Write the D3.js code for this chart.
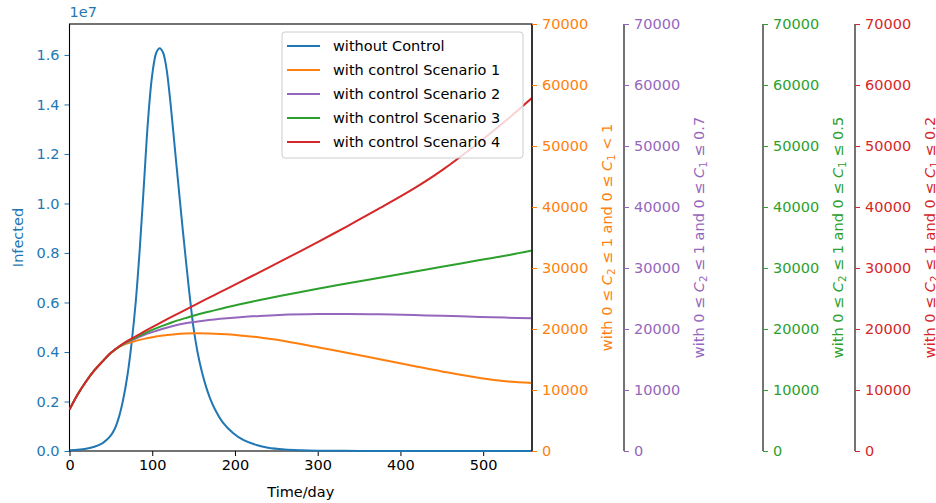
<!DOCTYPE html>
<html><head><meta charset="utf-8">
<script src="https://cdn.jsdelivr.net/npm/d3@7"></script>
<style>body{margin:0;background:#fff}svg{display:block;font-family:"DejaVu Sans",sans-serif}</style>
</head><body>
<script>
// ---- data ----
const blueT = [0,10,20,30,40,45,50,55,60,65,70,75,80,85,90,95,100,105,109,113,117,121,125,129,133,137,141,145,150,155,160,165,170,175,185,198,210,226,240,260,280,300,350,400,450,500,560];
const blueV = [0.03e6,0.05e6,0.09e6,0.17e6,0.32e6,0.45e6,0.63e6,0.92e6,1.40e6,2.10e6,3.05e6,4.35e6,6.0e6,8.2e6,10.8e6,13.4e6,15.2e6,16.1e6,16.27e6,16.1e6,15.5e6,14.4e6,13.05e6,11.65e6,10.27e6,8.9e6,7.6e6,6.35e6,4.95e6,3.95e6,3.2e6,2.6e6,2.12e6,1.74e6,1.17e6,0.72e6,0.45e6,0.24e6,0.13e6,0.06e6,0.03e6,0.015e6,0.003e6,0,0,0,0];
const scenT = [0,10,20,30,40,50,60,70,80,90,100,113,125,140,153,175,190,206,230,254,300,335,375,416,450,496,530,560];
const s1 = [6800,9300,11400,13200,14700,16050,17050,17650,18050,18380,18650,18920,19100,19260,19300,19230,19120,18950,18600,18150,17000,16100,15050,13950,13050,11950,11400,11150];
const s2 = [6800,9300,11400,13200,14700,16080,17100,17850,18450,19000,19480,20050,20500,20930,21200,21550,21750,21930,22150,22300,22440,22460,22400,22280,22160,21980,21860,21750];
const s3 = [6800,9300,11400,13200,14700,16100,17100,17950,18600,19250,19850,20550,21150,21780,22300,23050,23550,24050,24750,25400,26600,27450,28400,29400,30200,31300,32100,32900];
const s4 = [6800,9300,11400,13200,14700,16100,17150,18050,18800,19550,20300,21250,22100,23150,24050,25570,26590,27680,29330,31000,34250,36800,39800,43000,46000,50700,54450,58000];
const xTicks = [0,100,200,300,400,500];
const leftTicks = [0,0.2e7,0.4e7,0.6e7,0.8e7,1.0e7,1.2e7,1.4e7,1.6e7];
const rightTicks = [0,10000,20000,30000,40000,50000,60000,70000];
const legendLabels = ["without Control","with control Scenario 1","with control Scenario 2","with control Scenario 3","with control Scenario 4"];
const colors = ["#1f77b4","#ff7f0e","#9467bd","#2ca02c","#d62728"];
const axisLabels = [["with  0 ≤ ","2"," ≤ 1 and 0 ≤ ","1"," < 1"],["with 0 ≤ ","2"," ≤ 1 and 0 ≤ ","1"," ≤ 0.7"],["with 0 ≤ ","2"," ≤ 1 and 0 ≤ ","1"," ≤ 0.5"],["with 0 ≤ ","2"," ≤ 1 and 0 ≤ ","1"," ≤ 0.2"]];

// ---- layout ----
const W=936,H=503, L=69.5, R=532, T=24, B=451;
const spineX=[532,624,763,855];
const FS=14.5;
const svg=d3.select("body").append("svg").attr("width",W).attr("height",H);
const x=d3.scaleLinear().domain([0,559]).range([L,R]);
const yL=d3.scaleLinear().domain([0,1.725e7]).range([B,T]);
const yR=d3.scaleLinear().domain([0,70000]).range([B,T]);

svg.append("defs").append("clipPath").attr("id","clip").append("rect").attr("x",L).attr("y",T-2).attr("width",R-L).attr("height",B-T+4);

// x axis
const gx=svg.append("g").attr("transform",`translate(0,${B})`).call(d3.axisBottom(x).tickValues(xTicks).tickFormat(d3.format("d")).tickSize(5).tickPadding(4));
gx.select(".domain").remove();
gx.selectAll("text").attr("font-size",FS).attr("fill","#000").attr("font-family","DejaVu Sans");
gx.selectAll("line").attr("stroke","#000");
svg.append("text").attr("x",(L+R)/2).attr("y",497).attr("text-anchor","middle").attr("font-size",FS).text("Time/day");

// left axis
const gy=svg.append("g").attr("transform",`translate(${L},0)`).call(d3.axisLeft(yL).tickValues(leftTicks).tickFormat(d=>(d/1e7).toFixed(1)).tickSize(5).tickPadding(5));
gy.select(".domain").remove();
gy.selectAll("text").attr("font-size",FS).attr("fill",colors[0]).attr("font-family","DejaVu Sans");
gy.selectAll("line").attr("stroke",colors[0]);
svg.append("text").attr("x",L).attr("y",T-7).attr("font-size",FS).attr("fill",colors[0]).text("1e7");
svg.append("text").attr("transform",`translate(23,${(T+B)/2}) rotate(-90)`).attr("text-anchor","middle").attr("font-size",FS).attr("fill",colors[0]).text("Infected");

// frame
svg.append("rect").attr("x",L).attr("y",T).attr("width",R-L).attr("height",B-T).attr("fill","none").attr("stroke","#000").attr("stroke-width",1.1);

// blue line
const plot=svg.append("g").attr("clip-path","url(#clip)");
const curve=d3.curveCatmullRom.alpha(0.5);
const lineL=d3.line().x(d=>x(d[0])).y(d=>yL(d[1])).curve(curve);
plot.append("path").datum(blueT.map((t,i)=>[t,blueV[i]])).attr("d",lineL).attr("fill","none").attr("stroke",colors[0]).attr("stroke-width",2);

// legend
const lg=svg.append("g");
lg.append("rect").attr("x",282).attr("y",32).attr("width",241).attr("height",126).attr("rx",3).attr("fill","#fff").attr("fill-opacity",0.8).attr("stroke","#ccc");
legendLabels.forEach((lab,i)=>{
  const yy=46+i*24;
  lg.append("line").attr("x1",287).attr("x2",320).attr("y1",yy).attr("y2",yy).attr("stroke",colors[i]).attr("stroke-width",2);
  lg.append("text").attr("x",333).attr("y",yy+5).attr("font-size",FS).attr("fill","#000").text(lab);
});

// scenario lines
const lineR=d3.line().x(d=>x(d[0])).y(d=>yR(d[1])).curve(curve);
[s1,s2,s3,s4].forEach((s,i)=>{
  plot.append("path").datum(scenT.map((t,j)=>[t,s[j]])).attr("d",lineR).attr("fill","none").attr("stroke",colors[i+1]).attr("stroke-width",2);
});

// right axes
spineX.forEach((sx,i)=>{
  const c=colors[i+1];
  const g=svg.append("g").attr("transform",`translate(${sx},0)`).call(d3.axisRight(yR).tickValues(rightTicks).tickFormat(d3.format("d")).tickSize(5).tickSizeOuter(0).tickPadding(5));
  g.select(".domain").attr("stroke","#000").attr("stroke-width",1.1).attr("d",`M0,${T}V${B}`);
  g.selectAll("text").attr("font-size",FS).attr("fill",c).attr("font-family","DejaVu Sans");
  g.selectAll(".tick line").attr("stroke",c);
  const parts=axisLabels[i];
  const t=svg.append("text").attr("transform",`translate(${sx+80},${(T+B)/2}) rotate(-90)`).attr("text-anchor","middle").attr("font-size",FS).attr("fill",c);
  t.append("tspan").text(parts[0]);
  t.append("tspan").attr("font-style","italic").text("C");
  t.append("tspan").attr("font-size",FS*0.7).attr("dy",3).text(parts[1]);
  t.append("tspan").attr("dy",-3).text(parts[2]);
  t.append("tspan").attr("font-style","italic").text("C");
  t.append("tspan").attr("font-size",FS*0.7).attr("dy",3).text(parts[3]);
  t.append("tspan").attr("dy",-3).text(parts[4]);
});
</script>
</body></html>
